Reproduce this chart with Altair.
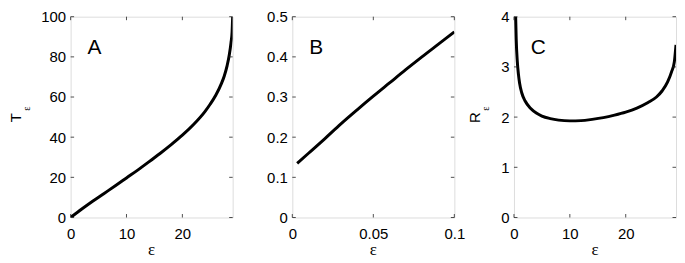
import altair as alt
import pandas as pd

# ---------------- data ----------------
eps_A = [0, 2, 4, 6, 8, 10, 12, 14, 16, 18, 20, 22, 24, 25, 26, 27, 27.5, 28, 28.4, 28.7, 28.9, 29]
T_A = [0, 4.2, 8.2, 12.0, 15.8, 19.7, 23.6, 27.7, 31.9, 36.3, 41.0, 46.3, 52.6, 56.5, 61.0,
       66.8, 70.5, 75.5, 81, 87, 92.5, 100]

eps_B = [0.003, 0.01, 0.02, 0.03, 0.04, 0.05, 0.06, 0.07, 0.08, 0.09, 0.1]
val_B = [0.135, 0.16, 0.196, 0.233, 0.268, 0.302, 0.335, 0.368, 0.4, 0.431, 0.462]

eps_C = [0.3, 0.4, 0.6, 0.8, 1.0, 1.4, 2, 3, 4, 5, 6.5, 8, 10, 12, 14, 16, 18, 20, 22, 24,
         25.5, 26.5, 27.5, 28.2, 28.7, 29]
R_C = [4.0, 3.55, 3.1, 2.85, 2.68, 2.48, 2.32, 2.17, 2.08, 2.02, 1.97, 1.94, 1.925, 1.93,
       1.955, 1.99, 2.04, 2.1, 2.18, 2.29, 2.4, 2.52, 2.7, 2.9, 3.1, 3.44]

xticks_A = [0, 10, 20]
yticks_A = [0, 20, 40, 60, 80, 100]
xticks_B = [0, 0.05, 0.1]
yticks_B = [0, 0.1, 0.2, 0.3, 0.4, 0.5]
xticks_C = [0, 10, 20]
yticks_C = [0, 1, 2, 3, 4]

letters = ["A", "B", "C"]
x_title = "ε"
y_title_A = ("T", "ε")
y_title_C = ("R", "ε")

# ---------------- layout ----------------
W, H = 163, 202
TICK = 3.5
SANS = "Liberation Sans"
SERIF = "Liberation Serif"
LABEL_SIZE = 15


def panel(xs, ys, xdom, ydom, xt, yt, fmt, letter, ytitle=None, ytitle_x=0.0):
    df = pd.DataFrame({"x": xs, "y": ys})
    xsc = alt.Scale(domain=xdom, nice=False, zero=False)
    ysc = alt.Scale(domain=ydom, nice=False, zero=False)
    common = dict(title=None, labelFlush=False, labelOverlap=False, labelFont=SANS,
                  labelFontSize=LABEL_SIZE, labelColor="black", grid=False, domain=False,
                  ticks=False)
    xax = alt.Axis(values=xt, format=fmt, labelPadding=9, **common)
    yax = alt.Axis(values=yt, format=fmt, labelPadding=5, **common)

    line = alt.Chart(df).mark_line(color="black", strokeWidth=3,
                                   interpolate="monotone", clip=True).encode(
        x=alt.X("x:Q", scale=xsc, axis=xax),
        y=alt.Y("y:Q", scale=ysc, axis=yax),
    )

    xtdf = pd.DataFrame({"v": xt})
    ytdf = pd.DataFrame({"v": yt})
    rule = dict(color="#222222", strokeWidth=0.8)
    xb = alt.Chart(xtdf).mark_rule(**rule).encode(
        x=alt.X("v:Q", scale=xsc, axis=xax), y=alt.value(H), y2=alt.value(H - TICK))
    xtp = alt.Chart(xtdf).mark_rule(**rule).encode(
        x=alt.X("v:Q", scale=xsc, axis=xax), y=alt.value(0), y2=alt.value(TICK))
    yl = alt.Chart(ytdf).mark_rule(**rule).encode(
        y=alt.Y("v:Q", scale=ysc, axis=yax), x=alt.value(0), x2=alt.value(TICK))
    yr = alt.Chart(ytdf).mark_rule(**rule).encode(
        y=alt.Y("v:Q", scale=ysc, axis=yax), x=alt.value(W - TICK), x2=alt.value(W))

    let = alt.Chart(pd.DataFrame({"t": [letter]})).mark_text(
        align="left", baseline="alphabetic", fontSize=21, font=SANS, color="black"
    ).encode(x=alt.value(17), y=alt.value(38), text="t:N")

    xtl = alt.Chart(pd.DataFrame({"t": [x_title]})).mark_text(
        align="center", baseline="alphabetic", fontSize=17, font=SERIF, color="black"
    ).encode(x=alt.value(W / 2), y=alt.value(H + 38), text="t:N")

    layers = [line, xb, xtp, yl, yr, let, xtl]
    if ytitle is not None:
        main, sub = ytitle
        m = alt.Chart(pd.DataFrame({"t": [main]})).mark_text(
            angle=270, align="center", baseline="alphabetic", fontSize=15,
            font=SANS, color="black"
        ).encode(x=alt.value(ytitle_x), y=alt.value(101.5), text="t:N")
        s = alt.Chart(pd.DataFrame({"t": [sub]})).mark_text(
            angle=270, align="center", baseline="alphabetic", fontSize=10,
            font=SERIF, color="black"
        ).encode(x=alt.value(ytitle_x + 9), y=alt.value(92.5), text="t:N")
        layers += [m, s]
    return alt.layer(*layers).properties(width=W, height=H)


pA = panel(eps_A, T_A, [0, 29], [0, 100], xticks_A, yticks_A, "d", letters[0], y_title_A, -50)
pB = panel(eps_B, val_B, [0, 0.1], [0, 0.5], xticks_B, yticks_B, "~g", letters[1])
pC = panel(eps_C, R_C, [0, 29], [0, 4], xticks_C, yticks_C, "d", letters[2], y_title_C, -34.5)

chart = alt.hconcat(pA, pB, pC, spacing=60, bounds="flush", padding=0).configure_view(
    stroke="#222222", strokeWidth=1
).configure(background="white")

chart.save("out.html", embed_options={"renderer": "svg", "actions": False})
